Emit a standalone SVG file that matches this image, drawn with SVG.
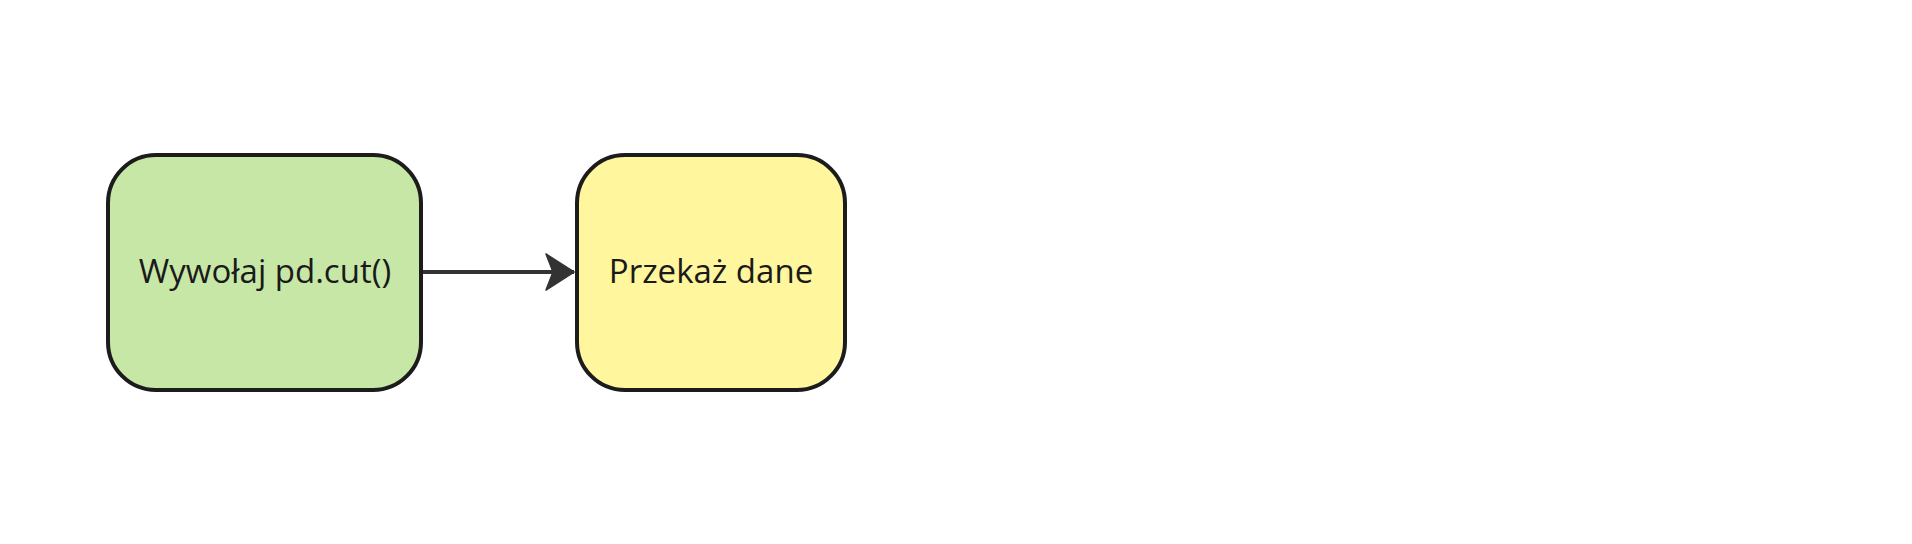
<svg xmlns="http://www.w3.org/2000/svg" width="1912" height="544" viewBox="0 0 1912 544">
<style>
.box{stroke:#1c1c1c;stroke-width:4}
.lbl{font-family:"Open Sans","Noto Sans",sans-serif;font-size:33px;fill:#1a1a1a;text-anchor:middle}
.edge{stroke:#333;stroke-width:4;fill:none}
</style>
<defs>
<marker id="arr" markerUnits="userSpaceOnUse" markerWidth="32" markerHeight="38" refX="30" refY="19" orient="auto" viewBox="0 0 32 38">
<path d="M2,1 L30,19 L2,37 L9,19 Z" fill="#333" stroke="#333" stroke-width="1.5" stroke-linejoin="round"/>
</marker>
</defs>
<rect width="1912" height="544" fill="#ffffff"/>
<g id="node1">
<rect class="box" x="108" y="155" width="313" height="235" rx="48" ry="48" fill="#c7e7a6"/>
<text class="lbl" x="265" y="283">Wywołaj pd.cut()</text>
</g>
<g id="node2">
<rect class="box" x="577" y="155" width="268" height="235" rx="48" ry="48" fill="#fff69d"/>
<text class="lbl" x="711" y="283">Przekaż dane</text>
</g>
<g id="connectors">
<line class="edge" x1="423" y1="272" x2="574" y2="272" marker-end="url(#arr)"/>
</g>
</svg>
